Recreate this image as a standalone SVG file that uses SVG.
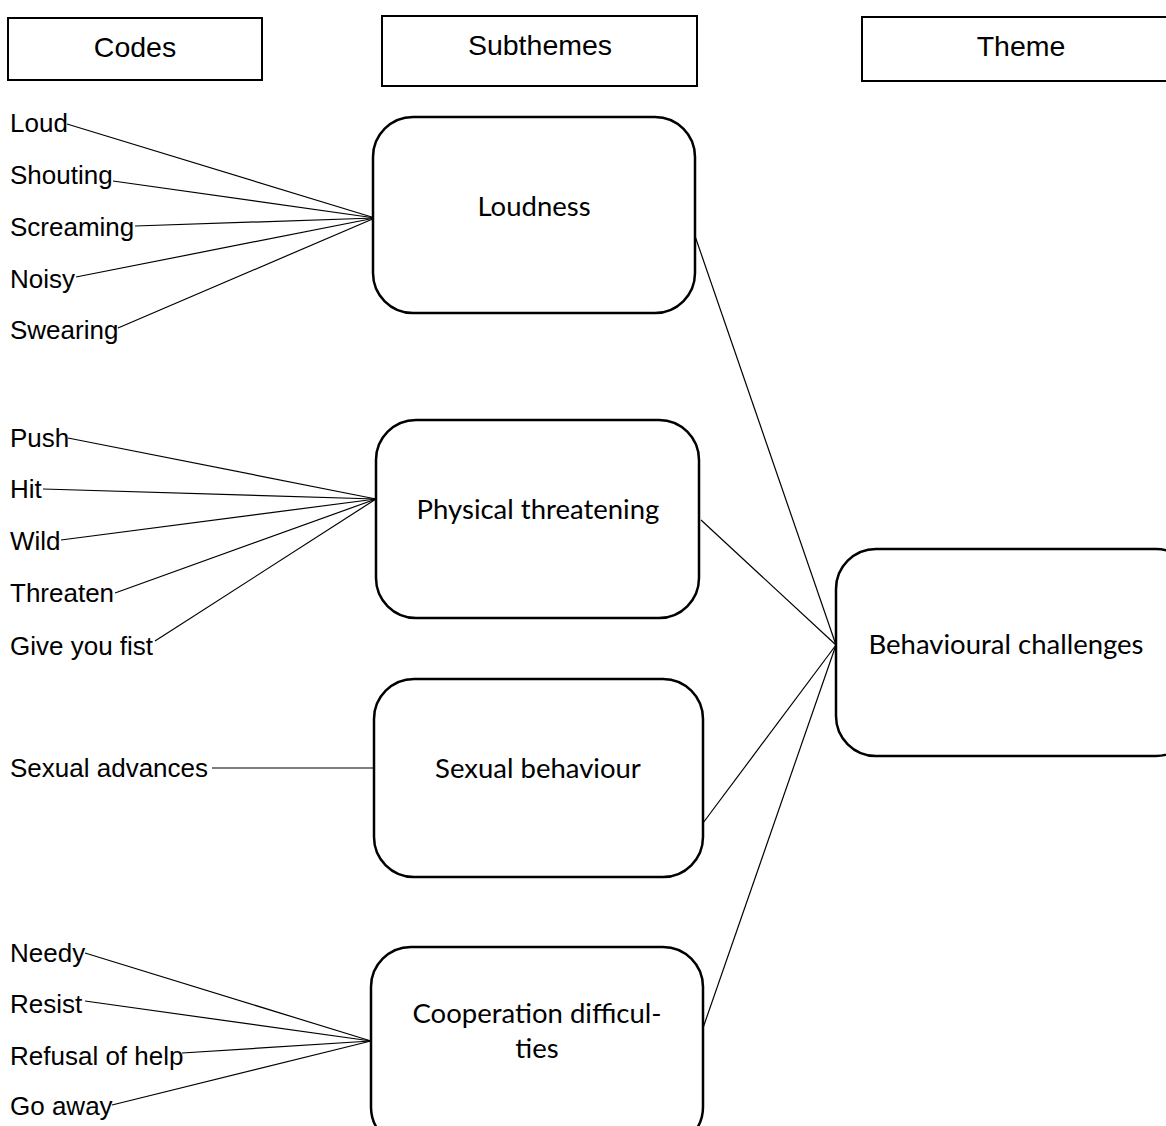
<svg xmlns="http://www.w3.org/2000/svg" width="1166" height="1126" viewBox="0 0 1166 1126">
<style>
.hdr{fill:#fff;stroke:#000;stroke-width:2}
.node{fill:#fff;stroke:#000;stroke-width:2.5}
.ht{font-family:"Liberation Sans",Arial,sans-serif;font-size:28.5px;text-anchor:middle;fill:#000}
.code{font-family:"Liberation Sans",Arial,sans-serif;font-size:26px;fill:#000}
.st{font-family:Lato,"Open Sans",sans-serif;font-size:27.5px;text-anchor:middle;fill:#000}
.con line{stroke:#000;stroke-width:1.2}
</style>
<rect width="1166" height="1126" fill="#fff"/>
<g id="connectors" class="con">
<line x1="67" y1="124" x2="375" y2="218"/>
<line x1="113" y1="181" x2="375" y2="218"/>
<line x1="135" y1="226" x2="375" y2="218"/>
<line x1="76" y1="277" x2="375" y2="218"/>
<line x1="118" y1="328" x2="375" y2="218"/>
<line x1="68" y1="438" x2="376" y2="499"/>
<line x1="43" y1="489" x2="376" y2="499"/>
<line x1="61" y1="540" x2="376" y2="499"/>
<line x1="115" y1="593" x2="376" y2="499"/>
<line x1="155" y1="641" x2="376" y2="499"/>
<line x1="212" y1="768" x2="374" y2="768"/>
<line x1="85" y1="953" x2="371" y2="1041"/>
<line x1="85" y1="1001" x2="371" y2="1041"/>
<line x1="182" y1="1053" x2="371" y2="1041"/>
<line x1="112" y1="1105" x2="371" y2="1041"/>
<line x1="695" y1="236" x2="836" y2="645"/>
<line x1="701" y1="520" x2="836" y2="645"/>
<line x1="703" y1="823" x2="836" y2="645"/>
<line x1="703" y1="1028" x2="836" y2="645"/>
</g>
<g id="hdr-codes"><rect class="hdr" x="8" y="18" width="254" height="62"/><text class="ht" x="135" y="57">Codes</text></g>
<g id="hdr-subthemes"><rect class="hdr" x="382" y="16" width="315" height="70"/><text class="ht" x="540" y="55">Subthemes</text></g>
<g id="hdr-theme"><rect class="hdr" x="862" y="17" width="310" height="64"/><text class="ht" x="1021" y="56">Theme</text></g>
<g id="codes">
<text class="code" x="10" y="132">Loud</text>
<text class="code" x="10" y="184">Shouting</text>
<text class="code" x="10" y="236">Screaming</text>
<text class="code" x="10" y="288">Noisy</text>
<text class="code" x="10" y="339">Swearing</text>
<text class="code" x="10" y="447">Push</text>
<text class="code" x="10" y="498">Hit</text>
<text class="code" x="10" y="550">Wild</text>
<text class="code" x="10" y="602">Threaten</text>
<text class="code" x="10" y="655">Give you fist</text>
<text class="code" x="10" y="777">Sexual advances</text>
<text class="code" x="10" y="962">Needy</text>
<text class="code" x="10" y="1013">Resist</text>
<text class="code" x="10" y="1065">Refusal of help</text>
<text class="code" x="10" y="1115">Go away</text>
</g>
<g id="loudness"><rect class="node" x="373" y="117" width="322" height="196" rx="40"/><text class="st" x="534" y="216">Loudness</text></g>
<g id="physical"><rect class="node" x="376" y="420" width="323" height="198" rx="40"/><text class="st" x="538" y="519">Physical threatening</text></g>
<g id="sexual"><rect class="node" x="374" y="679" width="329" height="198" rx="40"/><text class="st" x="538" y="778">Sexual behaviour</text></g>
<g id="cooperation"><rect class="node" x="371" y="947" width="332" height="200" rx="40"/><text class="st" x="537" y="1023">Cooperation difficul-</text><text class="st" x="537" y="1058">ties</text></g>
<g id="behavioural"><rect class="node" x="836" y="549" width="360" height="207" rx="40"/><text class="st" x="1006" y="654">Behavioural challenges</text></g>
</svg>
